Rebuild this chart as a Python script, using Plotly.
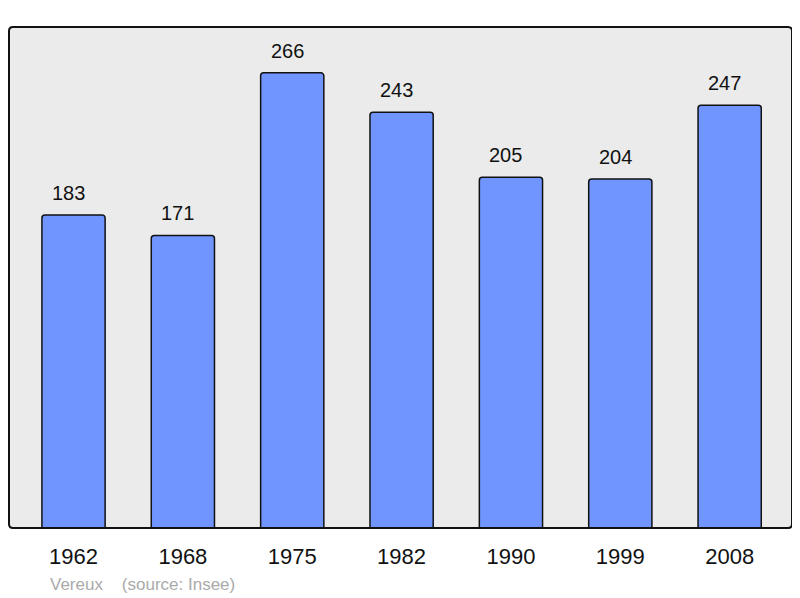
import plotly.graph_objects as go

years = ["1962", "1968", "1975", "1982", "1990", "1999", "2008"]
population = [183, 171, 266, 243, 205, 204, 247]
source_label = "Vereux    (source: Insee)"

# page body has an 8px margin; compensate so the plot lands where the reference has it
W, H = 800, 598
L, R, T, B = 1, 16, 19, 78
FONT = "Liberation Sans, Arial, sans-serif"

fig = go.Figure()
fig.add_trace(go.Bar(
    x=list(range(len(years))),
    y=population,
    width=0.578,
    marker=dict(color="#7095FF", line=dict(color="#111111", width=1.5), cornerradius=3),
    hoverinfo="skip",
))

for i, v in enumerate(population):
    fig.add_annotation(x=i, y=v, text=str(v), showarrow=False, yanchor="bottom",
                       yshift=9, xshift=-5,
                       font=dict(size=20, color="#111111", family=FONT))

pw, ph = W - L - R, H - T - B
fig.add_annotation(xref="paper", yref="paper", x=(40 - L) / pw, xanchor="left",
                   y=-(576 - (H - B)) / ph, yanchor="middle",
                   text=source_label, showarrow=False,
                   font=dict(size=17, color="#AAAAAA", family=FONT))

# rounded border
rx = 4 / pw
ry = 4 / ph
x0, y0, x1, y1 = 0, 0, 1, 1
path = (f"M {x0+rx},{y0} L {x1-rx},{y0} Q {x1},{y0} {x1},{y0+ry} "
        f"L {x1},{y1-ry} Q {x1},{y1} {x1-rx},{y1} L {x0+rx},{y1} "
        f"Q {x0},{y1} {x0},{y1-ry} L {x0},{y0+ry} Q {x0},{y0} {x0+rx},{y0} Z")
fig.add_shape(type="path", path=path, xref="paper", yref="paper",
              line=dict(color="#111111", width=2), layer="above")

fig.update_layout(
    width=W, height=H,
    margin=dict(l=L, r=R, t=T, b=B, autoexpand=False),
    paper_bgcolor="white",
    plot_bgcolor="#EBEBEB",
    showlegend=False,
    xaxis=dict(range=[-0.59, 6.57], tickmode="array",
               tickvals=list(range(len(years))), ticktext=years,
               showgrid=False, zeroline=False, ticks="outside", ticklen=9,
               tickcolor="rgba(0,0,0,0)",
               tickfont=dict(size=22, color="#111111", family=FONT)),
    yaxis=dict(range=[0, 292.8], showgrid=False, zeroline=False,
               showticklabels=False),
)

fig.write_html("out.html")
